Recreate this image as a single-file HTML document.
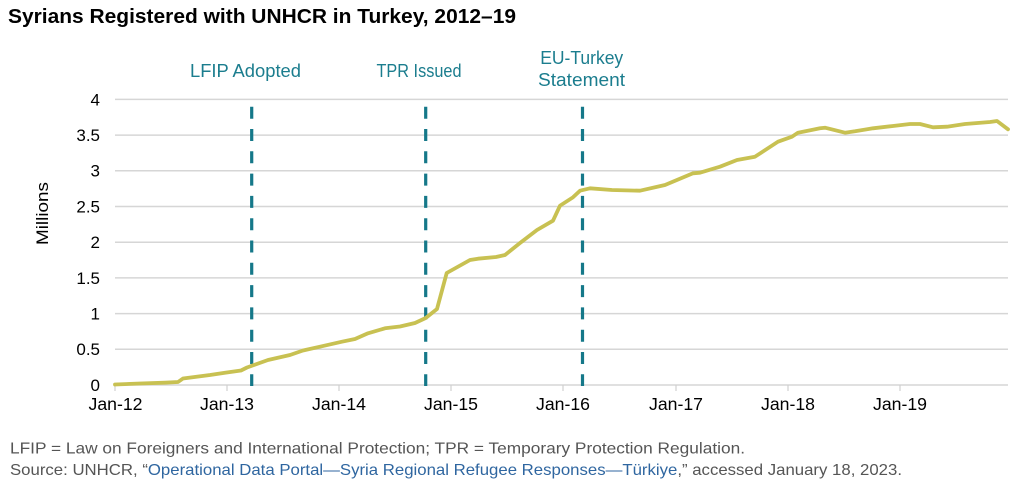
<!DOCTYPE html>
<html>
<head>
<meta charset="utf-8">
<style>
  html, body { margin:0; padding:0; background:#fff; }
  svg { display:block; }
  text { font-family: "Liberation Sans", "DejaVu Sans", sans-serif; }
</style>
</head>
<body>
<svg width="1022" height="501" viewBox="0 0 1022 501" xmlns="http://www.w3.org/2000/svg">
  <rect width="1022" height="501" fill="#fff"/>
  <!-- Title -->
  <text x="8" y="23" font-size="20.5" font-weight="bold" fill="#000" textLength="508" lengthAdjust="spacingAndGlyphs">Syrians Registered with UNHCR in Turkey, 2012–19</text>

  <!-- Gridlines -->
  <g stroke="#d6d6d6" stroke-width="1.5">
    <line x1="115" y1="99.4" x2="1008" y2="99.4"/>
    <line x1="115" y1="135.1" x2="1008" y2="135.1"/>
    <line x1="115" y1="170.8" x2="1008" y2="170.8"/>
    <line x1="115" y1="206.5" x2="1008" y2="206.5"/>
    <line x1="115" y1="242.2" x2="1008" y2="242.2"/>
    <line x1="115" y1="277.9" x2="1008" y2="277.9"/>
    <line x1="115" y1="313.6" x2="1008" y2="313.6"/>
    <line x1="115" y1="349.3" x2="1008" y2="349.3"/>
    <line x1="115" y1="385" x2="1008" y2="385"/>
  </g>
  <!-- x ticks -->
  <g stroke="#d0d0d0" stroke-width="1.2">
    <line x1="115" y1="385" x2="115" y2="391"/>
    <line x1="227" y1="385" x2="227" y2="391"/>
    <line x1="339" y1="385" x2="339" y2="391"/>
    <line x1="451" y1="385" x2="451" y2="391"/>
    <line x1="563" y1="385" x2="563" y2="391"/>
    <line x1="676" y1="385" x2="676" y2="391"/>
    <line x1="788" y1="385" x2="788" y2="391"/>
    <line x1="900" y1="385" x2="900" y2="391"/>
  </g>

  <!-- Y labels -->
  <g font-size="17" fill="#000" text-anchor="end">
    <text x="100" y="105.3">4</text>
    <text x="100" y="141">3.5</text>
    <text x="100" y="176.7">3</text>
    <text x="100" y="212.4">2.5</text>
    <text x="100" y="248.1">2</text>
    <text x="100" y="283.8">1.5</text>
    <text x="100" y="319.5">1</text>
    <text x="100" y="355.2">0.5</text>
    <text x="100" y="390.9">0</text>
  </g>
  <text x="0" y="0" font-size="17" fill="#000" text-anchor="middle" textLength="63" lengthAdjust="spacingAndGlyphs" transform="translate(48,213.5) rotate(-90)">Millions</text>

  <!-- X labels -->
  <g font-size="17.5" fill="#000" text-anchor="middle">
    <text x="115.5" y="410" textLength="54" lengthAdjust="spacingAndGlyphs">Jan-12</text>
    <text x="227" y="410" textLength="54" lengthAdjust="spacingAndGlyphs">Jan-13</text>
    <text x="339" y="410" textLength="54" lengthAdjust="spacingAndGlyphs">Jan-14</text>
    <text x="451" y="410" textLength="54" lengthAdjust="spacingAndGlyphs">Jan-15</text>
    <text x="563" y="410" textLength="54" lengthAdjust="spacingAndGlyphs">Jan-16</text>
    <text x="676" y="410" textLength="54" lengthAdjust="spacingAndGlyphs">Jan-17</text>
    <text x="788" y="410" textLength="54" lengthAdjust="spacingAndGlyphs">Jan-18</text>
    <text x="900" y="410" textLength="54" lengthAdjust="spacingAndGlyphs">Jan-19</text>
  </g>

  <!-- Event lines -->
  <g stroke="#157889" stroke-width="3.2" stroke-dasharray="12 10.3">
    <line x1="251.7" y1="106.7" x2="251.7" y2="386"/>
    <line x1="425.7" y1="106.7" x2="425.7" y2="386"/>
    <line x1="582.5" y1="106.7" x2="582.5" y2="386"/>
  </g>
  <g font-size="18" fill="#1b7d8e" text-anchor="middle">
    <text x="245.5" y="77" textLength="111" lengthAdjust="spacingAndGlyphs">LFIP Adopted</text>
    <text x="419" y="77" textLength="85" lengthAdjust="spacingAndGlyphs">TPR Issued</text>
    <text x="581.7" y="64" textLength="83" lengthAdjust="spacingAndGlyphs">EU-Turkey</text>
    <text x="581.5" y="86" textLength="87" lengthAdjust="spacingAndGlyphs">Statement</text>
  </g>

  <!-- Data line -->
  <polyline fill="none" stroke="#c8c152" stroke-width="3.8" stroke-linejoin="round" stroke-linecap="round"
    points="115,384.5 140,383.5 165,382.7 178,382 183,378.5 210,375 225,372.7 241,370.5 247,367.5 268,360 290,355 303,350.5 320,346.7 342,341.7 355,339 368,333.3 385,328.3 400,326.5 415,323 425.7,318 437,309 446.7,273 470,260 478,258.7 496,257 505,255 520,243 537,230 553,220.7 560,205.7 573,197.3 580,190.7 590,188.3 612,190 640,190.7 665,185 693,173.3 700,172.7 720,166.7 737,160 755,156.7 778,141.7 792,136.7 798,132.7 820,128.3 825,127.7 845,132.7 855,131.3 873,128.3 893,126 910,124 920,124 933,127.3 947,126.7 965,124 990,122 997,121 1008,129.3"/>

  <!-- Footnotes -->
  <text x="10" y="453.5" font-size="16" fill="#555" textLength="735" lengthAdjust="spacingAndGlyphs">LFIP = Law on Foreigners and International Protection; TPR = Temporary Protection Regulation.</text>
  <text x="10" y="475" font-size="16" fill="#555" textLength="892" lengthAdjust="spacingAndGlyphs">Source: UNHCR, “<tspan fill="#2f66a0">Operational Data Portal—Syria Regional Refugee Responses—Türkiye</tspan>,” accessed January 18, 2023.</text>
</svg>
</body>
</html>
